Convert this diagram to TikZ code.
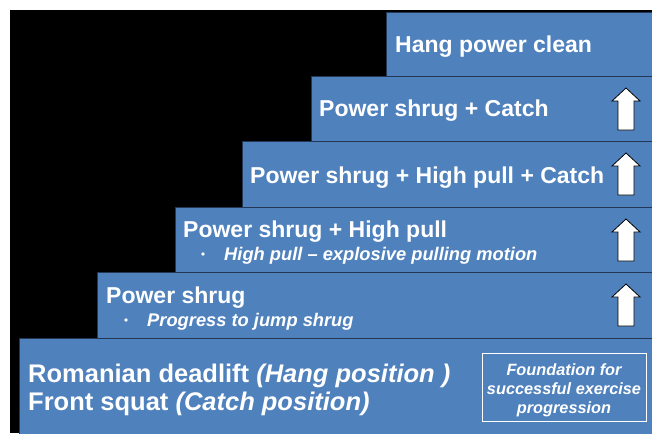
\documentclass[tikz,border=0pt]{standalone}
\usepackage{fontspec}
\setmainfont{Liberation Sans}
\definecolor{stepblue}{RGB}{79,129,189}
\definecolor{stepline}{RGB}{35,55,85}
\tikzset{
  stepbox/.style={fill=stepblue, draw=stepline, line width=0.8pt},
  steptext/.style={text=white, font=\bfseries\fontsize{23}{27}\selectfont, anchor=base west, inner sep=0pt},
  bigtext/.style={text=white, font=\bfseries\fontsize{25.5}{30}\selectfont, anchor=base west, inner sep=0pt},
  subtext/.style={text=white, font=\bfseries\itshape\fontsize{18.3}{22}\selectfont, anchor=base west, inner sep=0pt},
  uparrow/.style={fill=white, draw=black, line width=0.8pt, line join=miter}
}
\begin{document}
\begin{tikzpicture}[x=1pt,y=-1pt]

    \useasboundingbox (0,0) rectangle (652,433);
    % black backdrop
    \fill[black] (10,10) rectangle (652,433);

    % Steps, bottom to top
    \draw[stepbox] (19,338) rectangle (653,434);
    \draw[stepbox] (97,272) rectangle (653,338);
    \draw[stepbox] (175,207) rectangle (653,272);
    \draw[stepbox] (242,141) rectangle (653,207);
    \draw[stepbox] (311,76) rectangle (653,141);
    \draw[stepbox] (386,12) rectangle (653,76);

    % Step labels
    \node[steptext] (clean) at (395,53) {Hang power clean};
    \node[steptext] (catch) at (319,117) {Power shrug + Catch};
    \node[steptext] (pullcatch) at (250,183) {Power shrug + High pull + Catch};
    \node[steptext] (highpull) at (183,237) {Power shrug + High pull};
    \node[subtext] (highpullsub) at (224,260) {High pull -- explosive pulling motion};
    \fill[white] (203,254) circle (1.8pt);
    \node[steptext] (shrug) at (106,303) {Power shrug};
    \node[subtext] (shrugsub) at (147,326) {Progress to jump shrug};
    \fill[white] (126,320) circle (1.8pt);

    % Base step
    \node[bigtext] (rdl) at (28,382) {Romanian deadlift \textit{(Hang position )}};
    \node[bigtext] (squat) at (28,410) {Front squat \textit{(Catch position)}};
    \draw[white, line width=0.8pt] (482,353) rectangle (646,421);
    \node[align=center, text=white, font=\bfseries\itshape\fontsize{16.3}{19}\selectfont]
          (found) at (564,390) {Foundation for\\successful exercise\\progression};

    % Up arrows
    \foreach \t in {76,141,207,272} {
        \draw[uparrow] (626,\t+12) -- (640,\t+25) -- (634,\t+25) -- (634,\t+54)
            -- (618,\t+54) -- (618,\t+25) -- (612,\t+25) -- cycle;
    }

\end{tikzpicture}
\end{document}
